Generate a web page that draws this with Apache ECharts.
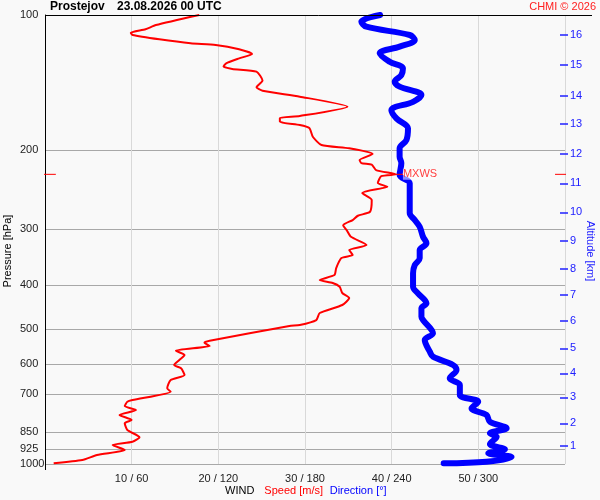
<!DOCTYPE html>
<html>
<head>
<meta charset="utf-8">
<script src="https://cdn.jsdelivr.net/npm/echarts@6/dist/echarts.min.js"></script>
<style>
html,body{margin:0;padding:0;background:#f9f9f9}
#wind{width:600px;height:500px}
</style>
</head>
<body>
<div id="wind"></div>
<script>
// wind speed profile [hPa] / [m/s]
var speedPres = [100, 105.3, 107.6, 109.5, 110.8, 113.3, 115.6, 116.6, 119.2, 122.1, 124.9, 128.1, 130.3, 131.9, 133.7, 140.0, 144.9, 147.4, 152.0,
	160.0, 167.9, 169.6, 172.9, 175.8, 178.5, 186.7, 194.8, 198.1, 204.0, 210.4, 213.7, 215.5, 221.5, 226.4, 228.5, 236.7, 241.3, 243.0, 249.2, 258.3,
	274.3, 280.0, 286.2, 294.0, 301.2, 311.8, 325.3, 333.8, 342.4, 347.7, 366.0, 379.4, 389.3, 395.3, 402.9, 416.1, 426.9, 442.5, 461.0, 477.9, 490.3,
	492.8, 531.4, 536.8, 546.0, 559.3, 571.8, 586.7, 601.9, 612.2, 633.6, 650.0, 678.3, 690.3, 720.3, 726.6, 742.8, 758.2, 777.8, 798.0,
	811.7, 840.0, 872.0, 891.9, 907.2, 930.7, 954.9, 979.7, 996.4];
var speedVal = [17.8, 12.8, 11.6, 9.9, 10.1, 13.2, 16.8, 19.7, 22.4, 23.9, 22.4, 20.9, 20.6, 21.6, 24.4, 25.1, 24.4, 25.1, 29.4,
	34.9, 29.4, 27.1, 27.1, 29.4, 30.5, 30.9, 31.9, 35.1, 37.8, 36.3, 36.5, 37.7, 38.2, 40.5, 38.8, 38.4, 39.5, 38.9, 36.6, 37.7,
	37.5, 36.1, 35.5, 34.4, 34.8, 35.3, 37.1, 35.1, 35.5, 34.2, 33.6, 33.4, 31.7, 33.2, 34.0, 34.3, 35.1, 34.3, 31.7, 31.3, 29.4,
	28.2, 19.0, 18.4, 19.0, 15.1, 16.1, 15.5, 14.9, 15.7, 16.1, 14.5, 14.1, 14.5, 10.1, 9.5, 9.2, 10.5, 8.6, 10.0,
	9.2, 9.5, 10.9, 10.1, 7.8, 9.2, 6.0, 4.3, 1.0];

// wind direction profile [hPa] / [deg]
var dirPres = [100, 103.5, 106.2, 110.8, 113.7, 117.6, 121.7, 127.1, 131.5, 136.1, 140.8, 144.4, 150.7, 156.1, 162.9, 169.9, 178.8, 189.9,
	198.1, 206.9, 213.7, 227.2, 237.1, 276.1, 286.2, 296.2, 311.8, 322.5, 333.8, 348.3, 360.5, 376.1, 402.9, 416.8, 438.7, 450.1, 469.9,
	477.9, 511.7, 529.5, 562.2, 576.8, 601.9, 617.5, 644.4, 666.9, 702.0, 726.6, 751.6, 777.8, 805.0, 832.7, 854.4, 869.4, 902.5, 927.4,
	946.6, 964.7, 988.3, 996.4];
var dirVal = [232, 219, 222.5, 252.5, 256, 245.5, 231.7, 238.6, 247.8, 246.7, 242.1, 245.5, 260.6, 254.8, 239.8, 243.3, 251.3, 250.2,
	245.5, 245.5, 246.7, 245.5, 252.5, 252.5, 256, 259.4, 261.7, 264.1, 259.4, 259.4, 256, 254.8, 254.8, 258.2, 264.1, 260.6, 260.6,
	261.7, 268.6, 262.9, 266.4, 268.6, 282.5, 284.9, 280.2, 287.2, 287.2, 299.9, 295.3, 305.7, 308, 319.6, 308, 312.7, 308, 318.4,
	306.9, 323, 305.7, 276];

var pressureTicks = [100, 200, 300, 400, 500, 600, 700, 850, 925, 1000];
var altitudeKm = [1, 2, 3, 4, 5, 6, 7, 8, 9, 10, 11, 12, 13, 14, 15, 16];
var altitudePres = [910.5, 811.7, 710.4, 628.1, 552.6, 480.3, 420.4, 367.9, 318.6, 275.0, 237.1, 203.5, 174.9, 151.2, 129.2, 110.6];

var mxwsPres = 226.4;
var mxwsSpeed = 40.5;

var FONT = 'Liberation Sans, Arial, sans-serif';
var lg = function(p) { return Math.log10(p); };

var speedData = speedPres.map(function(p, i) { return [speedVal[i], lg(p)]; });
var dirData = dirPres.map(function(p, i) { return [dirVal[i], lg(p)]; });
var mxY = lg(mxwsPres);

var chart = echarts.init(document.getElementById('wind'));
var option = {
	backgroundColor: '#f9f9f9',
	animation: false,
	grid: { left: 45, right: 35, top: 15, bottom: 36 },
	xAxis: [
		{
			type: 'value', min: 0, max: 60, interval: 10,
			axisLine: { show: false, onZero: false },
			axisTick: { show: false },
			axisLabel: {
				margin: 9, color: '#222', fontSize: 11, fontFamily: FONT,
				formatter: function(v) { return (v === 0 || v === 60) ? '' : v + ' / ' + v * 6; }
			},
			splitLine: { show: true, lineStyle: { color: '#d9d9d9', width: 1 } }
		},
		{ type: 'value', min: 0, max: 360, show: false, axisLine: { onZero: false } }
	],
	yAxis: [
		{
			type: 'value', min: 2, max: 3, inverse: true, position: 'left',
			axisLine: { show: true, onZero: false, lineStyle: { color: '#000', width: 1 } },
			axisTick: { show: false, customValues: pressureTicks.map(lg) },
			axisLabel: {
				customValues: pressureTicks.map(lg), margin: 25, align: 'left',
				color: '#222', fontSize: 11, fontFamily: FONT,
				formatter: function(v) { return Math.round(Math.pow(10, v)); }
			},
			splitLine: { show: true, lineStyle: { color: '#a8a8a8', width: 1 } }
		},
		{
			type: 'value', min: 2, max: 3, inverse: true, position: 'right', offset: 3,
			axisLine: { show: false, onZero: false },
			axisTick: { show: true, inside: true, length: 8, customValues: altitudePres.map(lg), lineStyle: { color: '#2020ff', width: 1.5 } },
			axisLabel: {
				customValues: altitudePres.map(lg), margin: 2,
				color: '#2020ff', fontSize: 11, fontFamily: FONT,
				formatter: function(v) {
					for (var i = 0; i < altitudePres.length; i++) {
						if (Math.abs(lg(altitudePres[i]) - v) < 1e-6) return altitudeKm[i];
					}
					return '';
				}
			},
			splitLine: { show: false }
		}
	],
	series: [
		{
			name: 'Speed', type: 'line', xAxisIndex: 0, yAxisIndex: 0,
			data: speedData, showSymbol: false, symbol: 'none', smooth: 0.2,
			lineStyle: { color: '#ff0000', width: 2 }, z: 3
		},
		{
			name: 'Direction', type: 'line', xAxisIndex: 1, yAxisIndex: 0,
			data: dirData, showSymbol: false, symbol: 'none', smooth: 0.35,
			lineStyle: { color: '#0000ff', width: 6, cap: 'round', join: 'round' }, z: 4
		},
		{
			name: 'MXWS', type: 'line', xAxisIndex: 0, yAxisIndex: 0,
			data: [[mxwsSpeed, mxY], [mxwsSpeed + 0.8, mxY]], showSymbol: false, symbol: 'none',
			lineStyle: { color: '#ff0000', width: 1 }, z: 5,
			endLabel: {
				show: true, formatter: 'MXWS', distance: 0,
				color: '#ff4040', fontSize: 11, fontFamily: FONT,
				backgroundColor: 'rgba(255,255,255,0.55)'
			}
		},
		{
			name: 'mxL', type: 'line', xAxisIndex: 0, yAxisIndex: 0, clip: false,
			data: [[-0.25, mxY], [1.25, mxY]], showSymbol: false, symbol: 'none',
			lineStyle: { color: '#ff0000', width: 1 }, z: 5
		},
		{
			name: 'mxR', type: 'line', xAxisIndex: 0, yAxisIndex: 0, clip: false,
			data: [[58.85, mxY], [60.3, mxY]], showSymbol: false, symbol: 'none',
			lineStyle: { color: '#ff0000', width: 1 }, z: 5
		}
	],
	graphic: [
		{ type: 'line', shape: { x1: 45, y1: 15.5, x2: 592, y2: 15.5 }, style: { stroke: '#000', lineWidth: 1 }, z: 10 },
		{ type: 'line', shape: { x1: 45.5, y1: 464, x2: 45.5, y2: 470 }, style: { stroke: '#000', lineWidth: 1 }, z: 10 },
		{ type: 'text', x: 50, y: 7, style: { text: 'Prostejov', font: 'bold 12px ' + FONT, fill: '#000', verticalAlign: 'middle' }, z: 10 },
		{ type: 'text', x: 117, y: 7, style: { text: '23.08.2026 00 UTC', font: 'bold 12px ' + FONT, fill: '#000', verticalAlign: 'middle' }, z: 10 },
		{ type: 'text', x: 596, y: 7, style: { text: 'CHMI © 2026', font: '11px ' + FONT, fill: '#ff2020', align: 'right', verticalAlign: 'middle' }, z: 10 },
		{ type: 'text', x: 8, y: 251, rotation: Math.PI / 2, style: { text: 'Pressure [hPa]', font: '11px ' + FONT, fill: '#000', align: 'center', verticalAlign: 'middle' }, z: 10 },
		{ type: 'text', x: 590, y: 251, rotation: -Math.PI / 2, style: { text: 'Altitude [km]', font: '11px ' + FONT, fill: '#2020ff', align: 'center', verticalAlign: 'middle' }, z: 10 },
		{
			type: 'text', x: 225, y: 491, z: 10,
			style: {
				text: '{a|WIND}   {b|Speed [m/s]}  {c|Direction [°]}',
				verticalAlign: 'middle',
				rich: {
					a: { fill: '#000', font: '11px ' + FONT },
					b: { fill: '#ff0000', font: '11px ' + FONT },
					c: { fill: '#0000ff', font: '11px ' + FONT }
				}
			}
		}
	]
};
chart.setOption(option);
</script>
</body>
</html>
